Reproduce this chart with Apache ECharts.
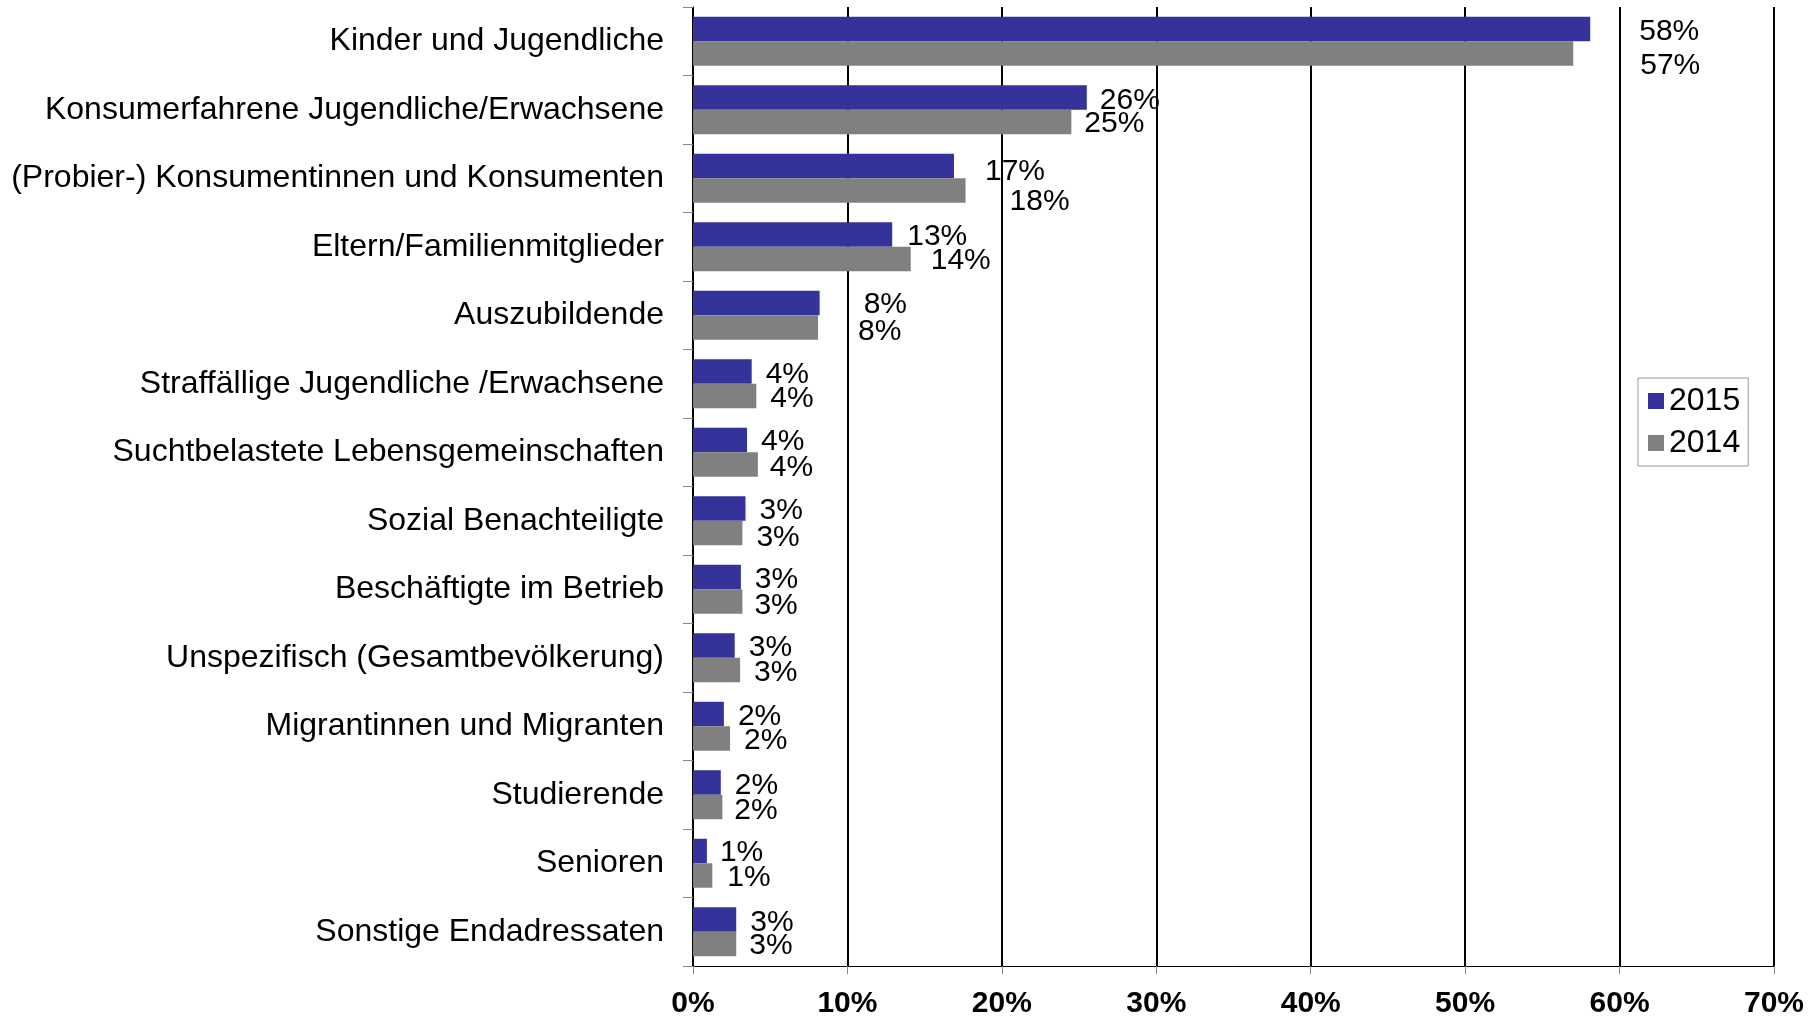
<!DOCTYPE html>
<html>
<head>
<meta charset="utf-8">
<script src="https://cdn.jsdelivr.net/npm/echarts@6/dist/echarts.min.js"></script>
<style>
html,body{margin:0;padding:0;background:#fff;}
#chart{width:1816px;height:1019px;}
</style>
</head>
<body>
<div id="chart"></div>
<script>
const categories = [
  'Kinder und Jugendliche',
  'Konsumerfahrene Jugendliche/Erwachsene',
  '(Probier-) Konsumentinnen und Konsumenten',
  'Eltern/Familienmitglieder',
  'Auszubildende',
  'Straffällige Jugendliche /Erwachsene',
  'Suchtbelastete Lebensgemeinschaften',
  'Sozial Benachteiligte',
  'Beschäftigte im Betrieb',
  'Unspezifisch (Gesamtbevölkerung)',
  'Migrantinnen und Migranten',
  'Studierende',
  'Senioren',
  'Sonstige Endadressaten'
];
const seriesNames = ['2015', '2014'];
const values2015 = [58.1, 25.5, 16.9, 12.9, 8.2, 3.8, 3.5, 3.4, 3.1, 2.7, 2.0, 1.8, 0.9, 2.8];
const values2014 = [57.0, 24.5, 17.65, 14.1, 8.1, 4.1, 4.2, 3.2, 3.2, 3.05, 2.4, 1.9, 1.25, 2.8];
const xTicks = [0, 10, 20, 30, 40, 50, 60, 70];

// label placement nudges (layout only, not data)
const labelShift2015 = [[49,3],[13,3],[31,6],[15,2],[44,2],[14,3],[14,2],[14,2],[14,3],[14,2],[14,3],[14,3],[13,2],[14,3]];
const labelShift2014 = [[67,12],[13,2],[44,11],[20,2],[40,4],[14,3],[12,3],[14,5],[12,4],[14,3],[14,2],[12,4],[15,2],[13,2]];

const FONT = "'Liberation Sans', Arial, sans-serif";
const chart = echarts.init(document.getElementById('chart'), null, {renderer: 'canvas'});

function makeData(vals, shifts) {
  return vals.map((v, i) => ({ value: v, label: { offset: shifts[i] } }));
}

const labelCommon = {
  show: true,
  position: 'right',
  distance: 0,
  color: '#000',
  fontFamily: FONT,
  fontSize: 30,
  formatter: p => Math.round(p.value) + '%'
};

chart.setOption({
  animation: false,
  backgroundColor: '#fff',
  grid: { left: 693, right: 42, top: 7, bottom: 52, containLabel: false },
  legend: {
    orient: 'vertical',
    left: 1638,
    top: 378,
    data: seriesNames,
    icon: 'rect',
    itemWidth: 16,
    itemHeight: 16,
    itemGap: 10,
    padding: [7, 8, 7, 10],
    borderColor: '#999',
    borderWidth: 1,
    backgroundColor: '#fff',
    textStyle: { fontFamily: FONT, fontSize: 32, color: '#000' }
  },
  xAxis: {
    type: 'value',
    min: xTicks[0],
    max: xTicks[xTicks.length - 1],
    interval: 10,
    axisLine: { show: true, onZero: false, lineStyle: { color: '#000', width: 1 } },
    axisTick: { show: true, length: 8, lineStyle: { color: '#888', width: 1 } },
    axisLabel: {
      formatter: '{value}%',
      fontFamily: FONT,
      fontSize: 30,
      fontWeight: 'bold',
      color: '#000',
      margin: 23
    },
    splitLine: { show: true, lineStyle: { color: '#000', width: 2 } }
  },
  yAxis: {
    type: 'category',
    data: categories,
    inverse: true,
    axisLine: { show: true, lineStyle: { color: '#000', width: 1 } },
    axisTick: { show: true, length: 10, lineStyle: { color: '#888', width: 1 } },
    axisLabel: {
      fontFamily: FONT,
      fontSize: 32,
      color: '#000',
      margin: 29,
      padding: [7, 0, 0, 0]
    },
    splitLine: { show: false }
  },
  series: [
    {
      name: seriesNames[0],
      type: 'bar',
      data: makeData(values2015, labelShift2015),
      barWidth: 24.5,
      barGap: '0%',
      itemStyle: { color: '#333399' },
      label: labelCommon
    },
    {
      name: seriesNames[1],
      type: 'bar',
      data: makeData(values2014, labelShift2014),
      barWidth: 24.5,
      barGap: '0%',
      itemStyle: { color: '#808080' },
      label: labelCommon
    }
  ]
});
</script>
</body>
</html>
